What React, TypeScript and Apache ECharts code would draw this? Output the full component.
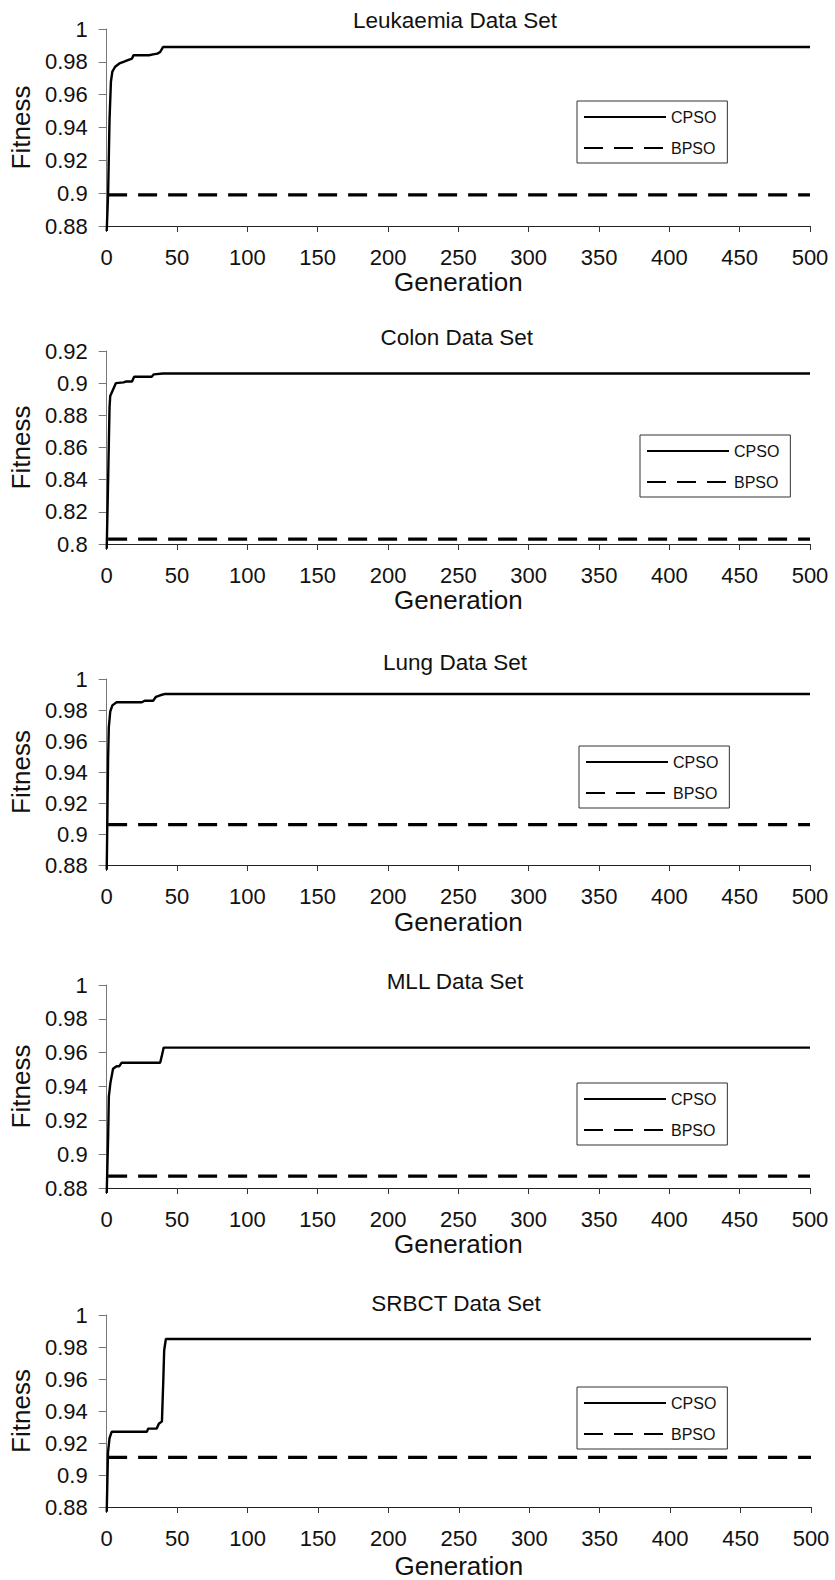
import React, { useEffect, useRef } from "react";
import * as echarts from "echarts";

// ---- data ----
const TITLES = ["Leukaemia Data Set", "Colon Data Set", "Lung Data Set", "MLL Data Set", "SRBCT Data Set"];
const SERIES_NAMES = ["CPSO", "BPSO"];
const X_NAME = "Generation";
const Y_NAME = "Fitness";
const X_MIN = 0;
const X_MAX = 500;
const X_INTERVAL = 50;
const Y_MIN = [0.88, 0.8, 0.88, 0.88, 0.88];
const Y_MAX = [1, 0.92, 1, 1, 1];
const Y_INTERVAL = 0.02;

const leukGen = [0, 1, 2, 3, 4, 6, 9, 12, 15, 18, 19, 30, 33, 36, 38, 40, 500];
const leukCPSO = [0.877, 0.9, 0.945, 0.968, 0.974, 0.977, 0.979, 0.98, 0.981, 0.982, 0.984, 0.984, 0.9845, 0.985, 0.986, 0.989, 0.989];

const colonGen = [0, 1, 2, 2.5, 4, 5, 6.5, 12, 13.5, 18, 19.5, 32, 33.5, 40, 500];
const colonCPSO = [0.797, 0.84, 0.885, 0.892, 0.895, 0.897, 0.9, 0.9005, 0.901, 0.901, 0.904, 0.904, 0.9055, 0.906, 0.906];

const lungGen = [0, 1, 1.5, 2.5, 4, 7, 25, 27, 33, 35, 38, 41, 500];
const lungCPSO = [0.877, 0.95, 0.969, 0.979, 0.983, 0.985, 0.985, 0.986, 0.986, 0.9885, 0.9895, 0.9903, 0.9903];

const mllGen = [0, 1, 1.5, 2.6, 4.5, 7, 9, 10.5, 38, 39, 40.5, 500];
const mllCPSO = [0.877, 0.91, 0.934, 0.942, 0.9505, 0.952, 0.952, 0.954, 0.954, 0.9575, 0.963, 0.963];

const srbctGen = [0, 0.9, 2, 3.5, 28.5, 29.5, 35.5, 37, 39.2, 40.2, 40.8, 42, 500];
const srbctCPSO = [0.877, 0.914, 0.923, 0.927, 0.927, 0.929, 0.929, 0.932, 0.9335, 0.96, 0.978, 0.985, 0.985];

const CPSO_GENS = [leukGen, colonGen, lungGen, mllGen, srbctGen];
const CPSO_VALUES = [leukCPSO, colonCPSO, lungCPSO, mllCPSO, srbctCPSO];

const BPSO_GENS = [1, 500];
const BPSO_VALUES = [0.899, 0.803, 0.906, 0.887, 0.911];

// ---- layout ----
const LAYOUT = [
  { top: 29, height: 197, left: 100, right: 25, titleY: 20, legendTop: 101, legendLeft: 577, nameGapX: 41 },
  { top: 351, height: 193, left: 103.5, right: 25, titleY: 337, legendTop: 435, legendLeft: 640, nameGapX: 43 },
  { top: 679, height: 186, left: 100, right: 25, titleY: 662, legendTop: 746, legendLeft: 579, nameGapX: 44 },
  { top: 985, height: 203, left: 100, right: 25, titleY: 981, legendTop: 1083, legendLeft: 577, nameGapX: 42 },
  { top: 1315, height: 193.5, left: 101, right: 24, titleY: 1303, legendTop: 1387, legendLeft: 577, nameGapX: 46 },
];

const FONT = "'Liberation Sans', Arial, Helvetica, sans-serif";
const W = 835;
const H = 1580;

export default function App() {
  const ref = useRef<HTMLDivElement>(null);

  useEffect(() => {
    if (!ref.current) return;
    const chart = echarts.init(ref.current, null, { renderer: "svg" });

    const grid = LAYOUT.map((l) => ({
      left: l.left,
      right: l.right,
      top: l.top,
      height: l.height,
      containLabel: false,
    }));

    const xAxis = LAYOUT.map((l, i) => ({
      type: "value",
      gridIndex: i,
      min: X_MIN,
      max: X_MAX,
      interval: X_INTERVAL,
      name: X_NAME,
      nameLocation: "middle",
      nameGap: l.nameGapX,
      nameTextStyle: { fontSize: 26, color: "#111", fontFamily: FONT },
      axisLine: { show: true, onZero: false, lineStyle: { color: "#222", width: 1 } },
      axisTick: { show: true, inside: false, length: 6, lineStyle: { color: "#333", width: 1 } },
      axisLabel: { fontSize: 22, color: "#111", fontFamily: FONT, margin: 20 },
      splitLine: { show: false },
    }));

    const yAxis = LAYOUT.map((l, i) => ({
      type: "value",
      gridIndex: i,
      min: Y_MIN[i],
      max: Y_MAX[i],
      interval: Y_INTERVAL,
      name: Y_NAME,
      nameLocation: "middle",
      nameGap: 63,
      nameTextStyle: { fontSize: 26, color: "#111", fontFamily: FONT },
      axisLine: { show: true, onZero: false, lineStyle: { color: "#777", width: 1 } },
      axisTick: { show: true, inside: false, length: 8, lineStyle: { color: "#777", width: 1 } },
      axisLabel: { fontSize: 22, color: "#111", fontFamily: FONT, margin: 19 },
      splitLine: { show: false },
    }));

    const series: any[] = [];
    CPSO_GENS.forEach((gens, i) => {
      series.push({
        type: "line",
        name: SERIES_NAMES[0],
        xAxisIndex: i,
        yAxisIndex: i,
        data: gens.map((g, k) => [g, CPSO_VALUES[i][k]]),
        symbol: "none",
        clip: false,
        silent: true,
        itemStyle: { color: "#000" },
        lineStyle: { color: "#000", width: 2.4 },
      });
      series.push({
        type: "line",
        name: SERIES_NAMES[1],
        xAxisIndex: i,
        yAxisIndex: i,
        data: BPSO_GENS.map((g) => [g, BPSO_VALUES[i]]),
        symbol: "none",
        clip: false,
        silent: true,
        itemStyle: { color: "#000" },
        lineStyle: { color: "#000", width: 3.2, type: [19, 11] },
      });
    });

    const legend = LAYOUT.map((l) => ({
      left: l.legendLeft,
      top: l.legendTop,
      orient: "vertical",
      data: SERIES_NAMES,
      itemWidth: 82,
      itemHeight: 14,
      itemGap: 15,
      padding: [8, 11, 7, 6],
      borderColor: "#333",
      borderWidth: 1,
      backgroundColor: "#fff",
      selectedMode: false,
      itemStyle: { opacity: 0, borderWidth: 0 },
      textStyle: { fontSize: 16, color: "#111", fontFamily: FONT },
    }));

    const graphic = LAYOUT.map((l, i) => ({
      type: "text",
      x: l.left + (W - l.left - l.right) / 2,
      y: l.titleY,
      silent: true,
      style: {
        text: TITLES[i],
        fontSize: 22.5,
        fontFamily: FONT,
        fill: "#111",
        textAlign: "center",
        textVerticalAlign: "middle",
      },
    }));

    chart.setOption({
      animation: false,
      backgroundColor: "#fff",
      grid,
      xAxis,
      yAxis,
      series,
      legend,
      graphic,
    });

    return () => chart.dispose();
  }, []);

  return (
    <div
      ref={ref}
      style={{ position: "absolute", left: 0, top: 0, width: W, height: H, background: "#fff" }}
    />
  );
}
